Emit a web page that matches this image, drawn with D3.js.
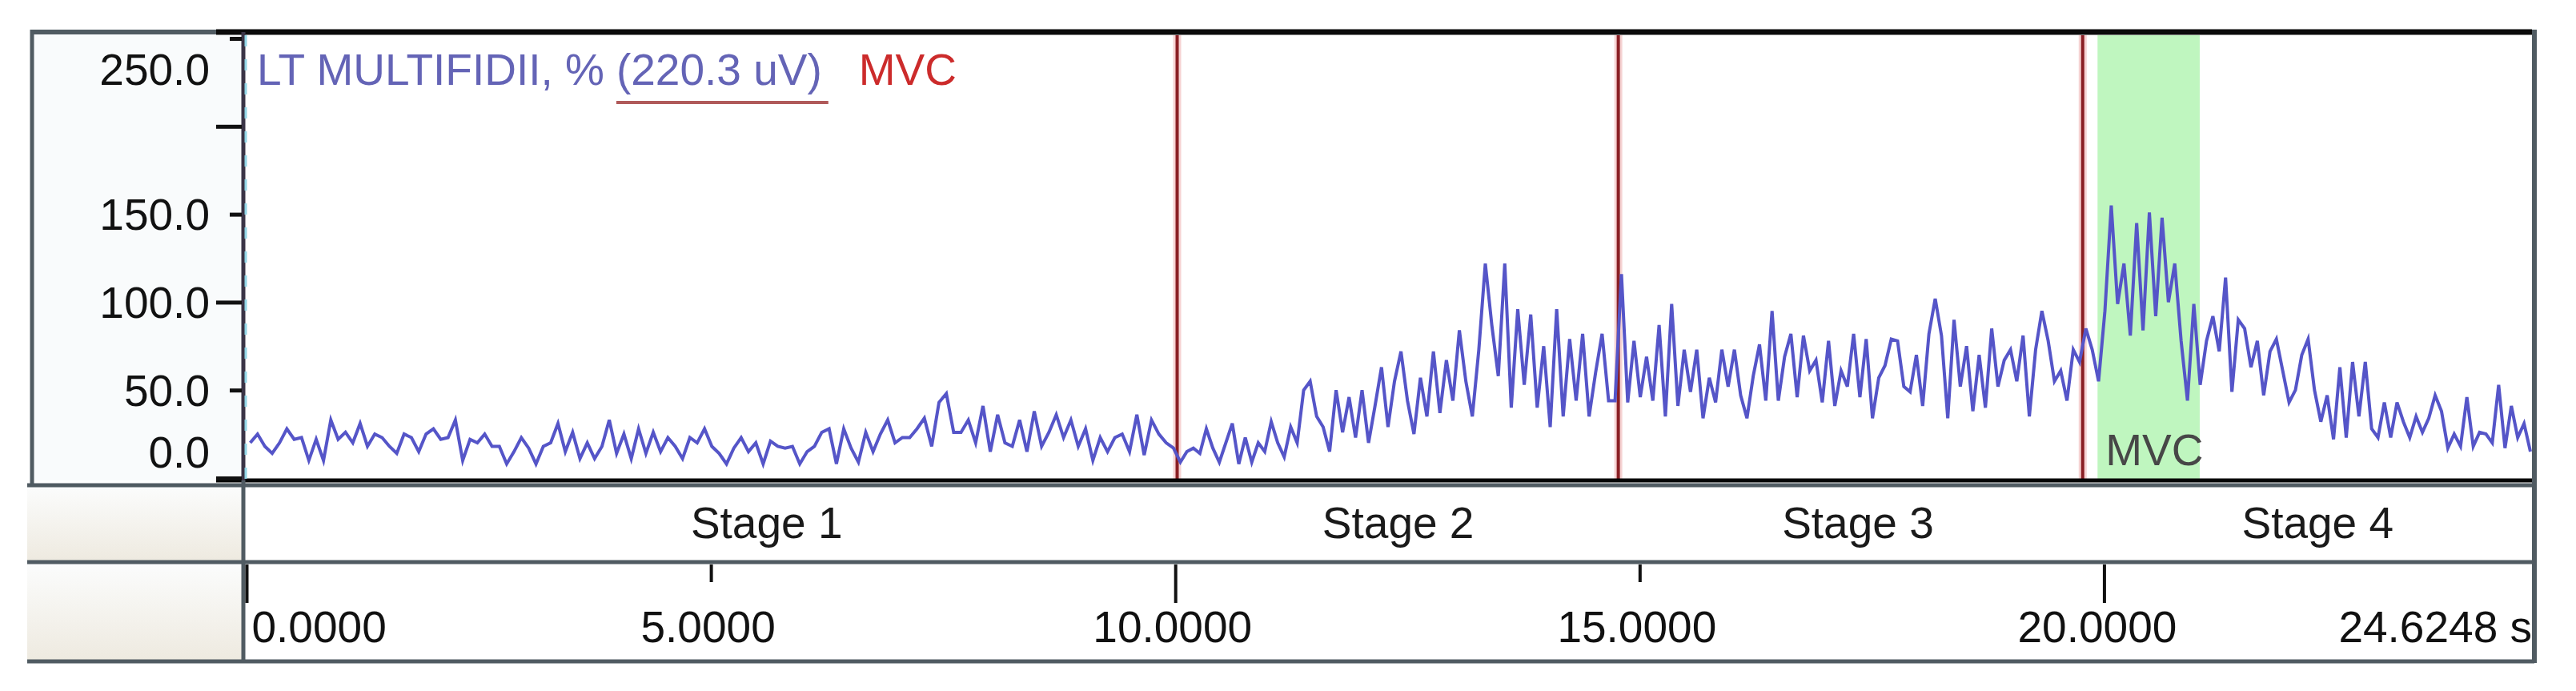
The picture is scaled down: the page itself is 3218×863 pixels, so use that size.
<!DOCTYPE html>
<html lang="en">
<head>
  <meta charset="UTF-8">
  <title>LT Multifidii EMG</title>
  <script src="https://d3js.org/d3.v7.min.js"></script>
  <style>
    body { margin: 0; background: #fff; }
    svg { display: block; }
    text { font-family: "Liberation Sans", Arial, sans-serif; }
  </style>
</head>
<body>
<div class="main"></div>
<script>

  // stage boundaries in seconds (red markers) and where the stage names sit
  var stageEdges = [0, 10.02, 14.77, 19.77, 24.6248];
  var stageNames = ["Stage 1", "Stage 2", "Stage 3", "Stage 4"];
  var stageLabelTimes = [5.6, 12.4, 17.35, 22.3];
  var markerTimes = [10.02, 14.77, 19.77];
  var mvcBand = [19.93, 21.03];

  var yTicks = [0, 50, 100, 150, 200, 250];
  var yTickLabels = ["0.0", "50.0", "100.0", "150.0", "", "250.0"];
  var xTicks = [0, 5, 10, 15, 20];
  var xTickLabels = ["0.0000", "5.0000", "10.0000", "15.0000", "20.0000"];
  var endLabel = "24.6248 s";
  var channelName = "LT MULTIFIDII, %";
  var channelScale = "(220.3 uV)";

  // % MVC readings, stage by stage
  var stage1 = [20,25,18,14,20,28,22,23,10,22,10,33,22,26,20,31,18,25,23,18,14,25,23,15,25,28,22,23,33,10,22,20,25,18,18,8,15,23,17,8,18,20,31,15,26,11,20,11,18,33,14,25,11,28,14,26,15,23,18,11,23,20,28,18,
    14,8,17,23,15,20,8,21,18,17,18,8,15,18,26,28,8,28,17,9,26,15,25,33,20,23,23,28,34,18,43,48,26,26,33,20,41,15,36,20,18,33,15,38,18,26,36,23,33,18,28,10,23,15,23,25,15,36,13,33,25,20,17];
  var stage2 = [9,15,17,14,28,17,9,20,31,8,23,9,20,15,32,20,12,29,20,50,55,35,29,15,50,26,46,23,50,20,41,63,29,55,72,44,25,57,35,72,37,67,44,84,55,35,73,122,87,58,122,40,96,53,93,40,75,29,96,35,79,44,82,35,60,82,44,44];
  var stage3 = [116,43,78,46,69,44,87,35,99,41,73,49,73,34,57,43,73,52,73,47,34,58,76,44,95,44,69,82,46,81,61,67,43,78,41,61,52,82,46,79,34,57,64,79,78,52,49,70,41,82,102,81,34,90,52,75,38,70,40,85,52,67,73,55,81,35,73,95,78,55,61,44,73,66];
  var stage4 = [85,73,55,95,155,99,122,81,145,84,151,92,148,100,122,78,44,99,53,78,92,72,114,49,90,85,63,78,47,72,79,61,43,50,70,79,50,32,47,22,63,23,66,35,66,28,23,43,23,43,32,23,35,26,34,47,38,17,25,18,46,18,26,25,20,53,17,41,23,31,15];

  var width = 3218, height = 863;
  var frameL = 40, frameR = 3166, frameT = 40, frameB = 826;
  var axisX = 304, plotB = 600, stageB = 702;
  var font = 55;

  var x = d3.scaleLinear().domain([0, 24.6248]).range([308, 3165]);
  var y = d3.scaleLinear().domain([0, 250]).range([597, 48]);

  // spread each stage's samples evenly between its markers
  var points = [];
  [stage1, stage2, stage3, stage4].forEach(function (vals, k) {
    var t0 = stageEdges[k], t1 = stageEdges[k + 1];
    vals.forEach(function (v, i) {
      points.push([t0 + (i + 0.5) * (t1 - t0) / vals.length, v]);
    });
  });

  var svg = d3.select(".main").append("svg")
          .attr("width", width)
          .attr("height", height);

  var defs = svg.append("defs");
  var grad = defs.append("linearGradient").attr("id", "side").attr("x1", 0).attr("y1", 0).attr("x2", 0).attr("y2", 1);
  grad.append("stop").attr("offset", "0%").attr("stop-color", "#fbfcfc");
  grad.append("stop").attr("offset", "100%").attr("stop-color", "#eeeae0");

  // panels
  svg.append("rect").attr("x", frameL).attr("y", frameT).attr("width", axisX - frameL).attr("height", plotB - frameT).attr("fill", "#f9fbfc");
  svg.append("rect").attr("x", 34).attr("y", plotB + 8).attr("width", axisX - 34).attr("height", stageB - plotB - 10).attr("fill", "url(#side)");
  svg.append("rect").attr("x", 34).attr("y", stageB + 3).attr("width", axisX - 34).attr("height", frameB - stageB - 5).attr("fill", "url(#side)");

  // MVC band
  svg.append("rect")
          .attr("x", x(mvcBand[0])).attr("y", 44)
          .attr("width", x(mvcBand[1]) - x(mvcBand[0]))
          .attr("height", plotB - 46)
          .attr("fill", "#bff6bf");
  svg.append("text").attr("x", x(mvcBand[0]) + 10).attr("y", 581)
          .attr("font-size", font).attr("fill", "#474747").text("MVC");

  // stage markers
  var mk = svg.append("g");
  mk.selectAll(".halo").data(markerTimes).join("line").attr("class", "halo")
          .attr("x1", d => x(d)).attr("x2", d => x(d)).attr("y1", 44).attr("y2", plotB)
          .attr("stroke", "#f6d3d3").attr("stroke-width", 10);
  mk.selectAll(".core").data(markerTimes).join("line").attr("class", "core")
          .attr("x1", d => x(d)).attr("x2", d => x(d)).attr("y1", 44).attr("y2", plotB)
          .attr("stroke", "#8a1f24").attr("stroke-width", 4);

  // signal
  var line = d3.line().x(d => x(d[0])).y(d => y(d[1]));
  svg.append("path").datum(points)
          .attr("d", line)
          .attr("fill", "none")
          .attr("stroke", "#5555c8")
          .attr("stroke-width", 4)
          .attr("stroke-linejoin", "miter");

  // frame lines
  var gray = "#505b62";
  function hline(x1, x2, yy, col, w) {
    svg.append("line").attr("x1", x1).attr("x2", x2).attr("y1", yy).attr("y2", yy).attr("stroke", col).attr("stroke-width", w);
  }
  function vline(xx, y1, y2, col, w) {
    svg.append("line").attr("x1", xx).attr("x2", xx).attr("y1", y1).attr("y2", y2).attr("stroke", col).attr("stroke-width", w);
  }
  hline(frameL, 270, frameT, gray, 6);
  hline(270, frameR - 3, frameT, "#0b0b0b", 7);
  hline(34, frameR, plotB + 6, gray, 5);
  hline(270, frameR - 3, plotB, "#050505", 5);
  hline(34, frameR, stageB, gray, 5);
  hline(34, frameR, frameB, gray, 5);
  vline(frameL, frameT - 3, plotB + 6, gray, 5);
  vline(frameR, frameT - 3, frameB + 2, gray, 6);
  vline(axisX, plotB, frameB, gray, 5);
  vline(axisX, frameT, plotB, "#3a3446", 5);
  svg.append("line").attr("x1", axisX + 3).attr("x2", axisX + 3).attr("y1", frameT + 4).attr("y2", plotB - 2)
          .attr("stroke", "#92d6e6").attr("stroke-width", 3).attr("stroke-dasharray", "14 16");

  // y axis
  var yAxis = d3.axisLeft(y).tickValues(yTicks).tickSize(32).tickFormat((d, i) => yTickLabels[i]);
  var gy = svg.append("g").attr("transform", `translate(${axisX - 2},0)`).call(yAxis);
  gy.attr("font-size", null).attr("font-family", null);
  gy.select(".domain").remove();
  gy.selectAll(".tick line").attr("stroke", "#111").attr("stroke-width", 5).attr("x2", d => d % 100 === 0 ? -32 : -15);
  gy.selectAll(".tick text")
          .attr("x", -40)
          .attr("font-size", font)
          .attr("fill", "#111")
          .attr("y", d => Math.max(86, Math.min(564, y(d))) - y(d))
          .attr("dy", "0.35em");

  // stage names
  svg.append("g").selectAll("text").data(stageNames).join("text")
          .attr("x", (d, i) => x(stageLabelTimes[i]))
          .attr("y", 672)
          .attr("text-anchor", "middle")
          .attr("font-size", font)
          .attr("fill", "#1a1a1a")
          .text(d => d);

  // time axis
  var xAxis = d3.axisBottom(x).tickValues(xTicks).tickSize(48).tickFormat((d, i) => xTickLabels[i]);
  var gx = svg.append("g").attr("transform", `translate(0,${stageB + 3})`).call(xAxis);
  gx.attr("font-size", null).attr("font-family", null);
  gx.select(".domain").remove();
  gx.selectAll(".tick line").attr("stroke", "#111").attr("stroke-width", 4).attr("y2", d => d % 10 === 0 ? 48 : 22);
  gx.selectAll(".tick text")
          .attr("y", 97).attr("dy", null)
          .attr("font-size", font)
          .attr("fill", "#111")
          .attr("text-anchor", d => d === 0 ? "start" : "middle")
          .attr("x", d => d === 0 ? 6 : (d === 20 ? -9 : -4));
  svg.append("text").attr("x", frameR - 3).attr("y", stageB + 100)
          .attr("text-anchor", "end").attr("font-size", font).attr("fill", "#111").text(endLabel);

  // channel title with scale underline
  var t1 = svg.append("text").attr("x", 321).attr("y", 106).attr("font-size", font).attr("fill", "#6464b6").text(channelName);
  var sx = 321 + t1.node().getComputedTextLength() + 15;
  var t2 = svg.append("text").attr("x", sx).attr("y", 106).attr("font-size", font).attr("fill", "#6464b6").text(channelScale);
  var ex = sx + t2.node().getComputedTextLength();
  hline(sx, ex + 8, 128, "#b05a5a", 4);
  svg.append("text").attr("x", ex + 46).attr("y", 106).attr("font-size", font).attr("fill", "#cc2b2b").text("MVC");

</script>
</body>
</html>
